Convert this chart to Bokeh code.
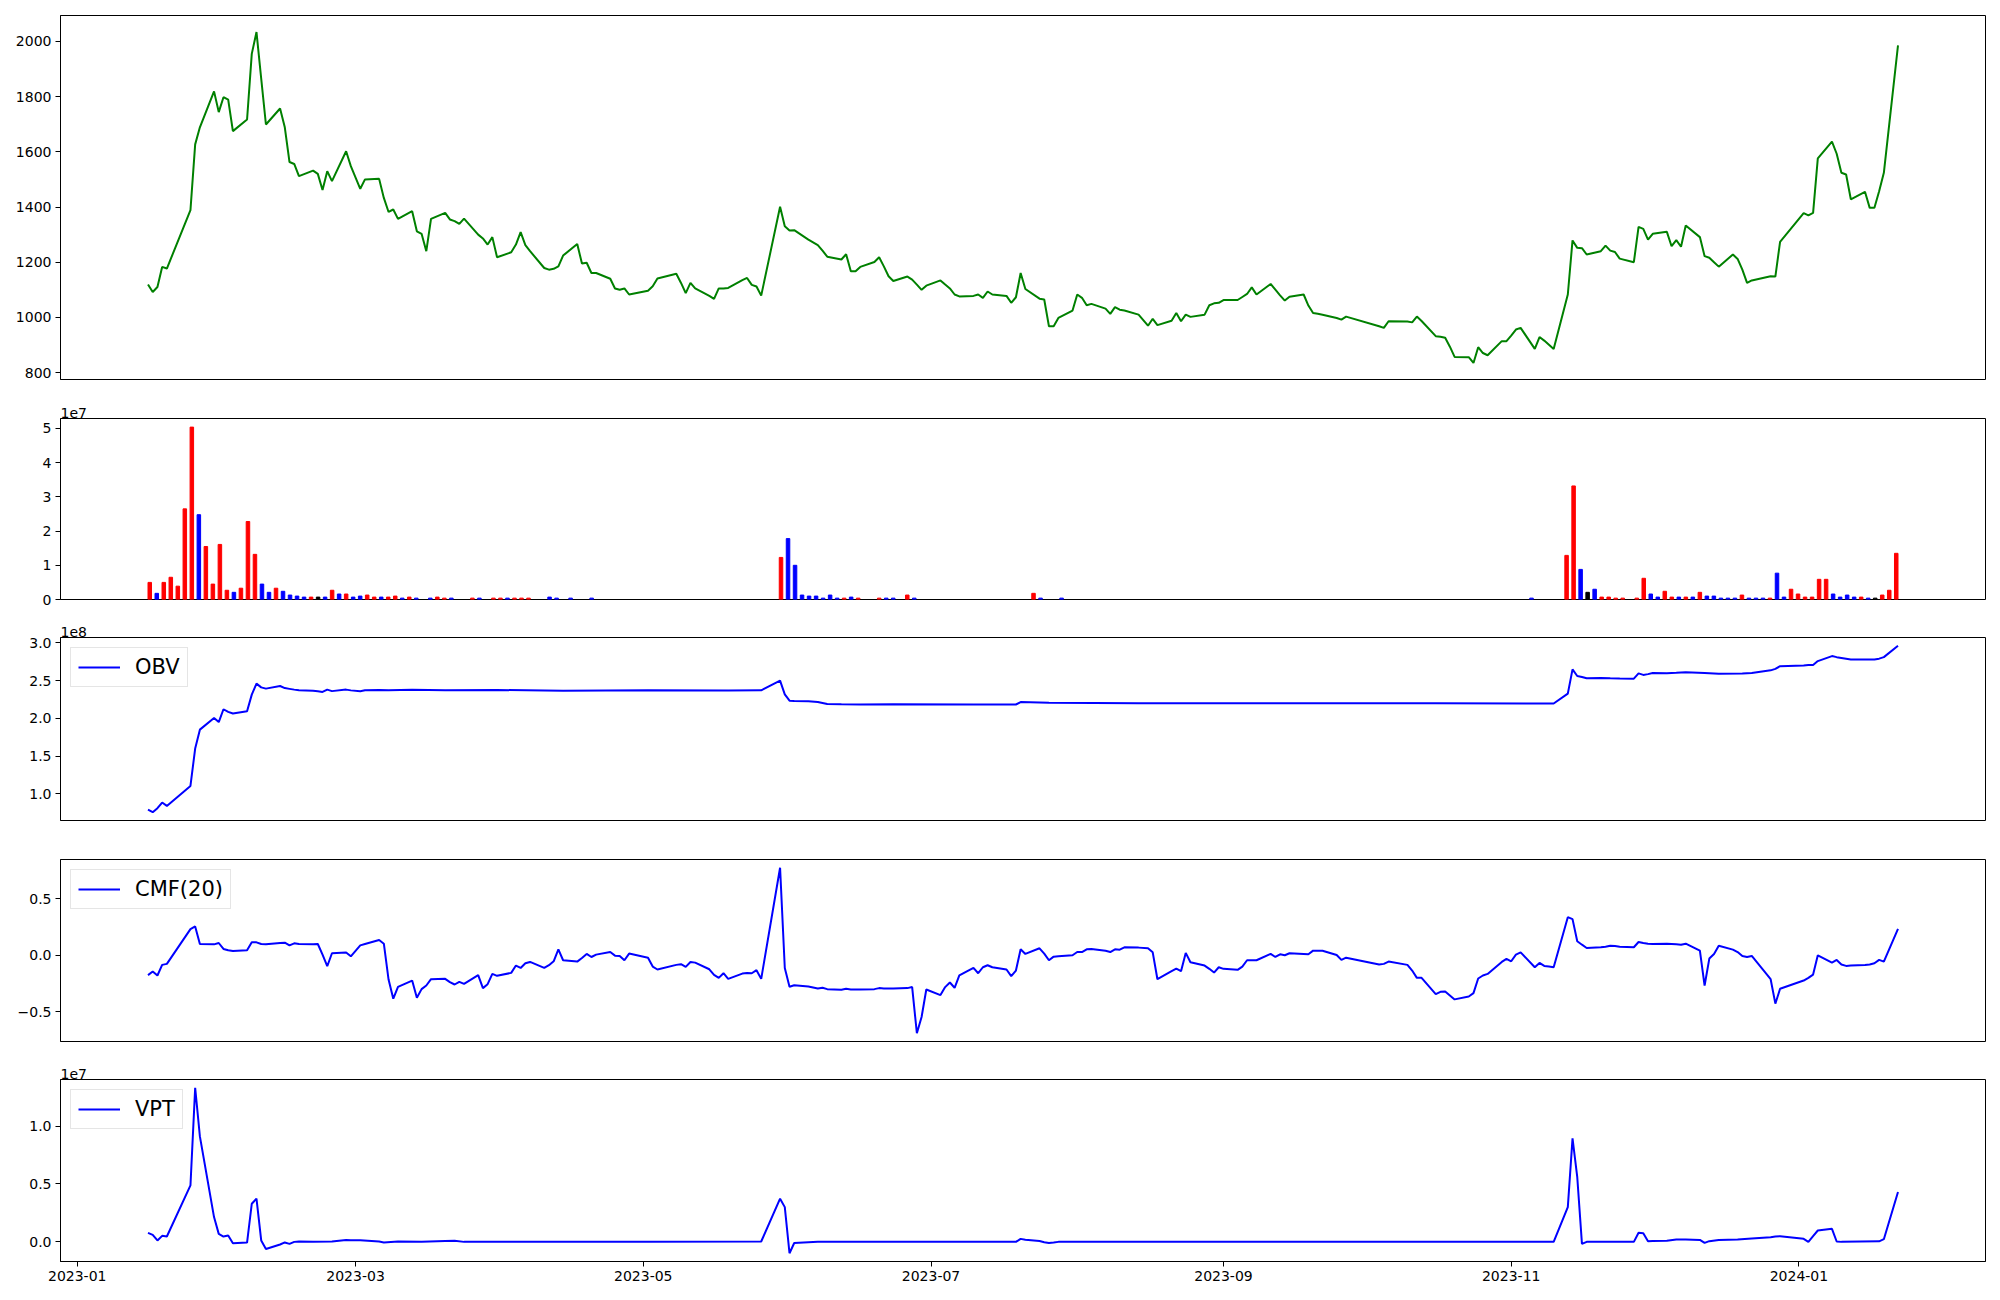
import pandas as pd
from bokeh.plotting import figure
from bokeh.layouts import column
from bokeh.models import (Range1d, FixedTicker, DatetimeTickFormatter, CustomJSTickFormatter,
                          Legend, LegendItem, ColumnDataSource)
from bokeh.embed import file_html
from bokeh.resources import INLINE

# ---------------- data ----------------
DATES = [
"2023-01-16","2023-01-17","2023-01-18","2023-01-19","2023-01-20","2023-01-25","2023-01-26","2023-01-27","2023-01-30","2023-01-31",
"2023-02-01","2023-02-02","2023-02-03","2023-02-06","2023-02-07","2023-02-08","2023-02-09","2023-02-10","2023-02-13","2023-02-14",
"2023-02-15","2023-02-16","2023-02-17","2023-02-20","2023-02-21","2023-02-22","2023-02-23","2023-02-24","2023-02-27","2023-02-28",
"2023-03-02","2023-03-03","2023-03-06","2023-03-07","2023-03-08","2023-03-09","2023-03-10","2023-03-13","2023-03-14","2023-03-15",
"2023-03-16","2023-03-17","2023-03-20","2023-03-21","2023-03-22","2023-03-23","2023-03-24","2023-03-27","2023-03-28","2023-03-29",
"2023-03-30","2023-03-31",
"2023-04-03","2023-04-04","2023-04-05","2023-04-06","2023-04-07","2023-04-10","2023-04-11","2023-04-12","2023-04-13","2023-04-14",
"2023-04-17","2023-04-18","2023-04-19","2023-04-20","2023-04-21","2023-04-24","2023-04-25","2023-04-26","2023-04-27","2023-04-28",
"2023-05-02","2023-05-03","2023-05-04","2023-05-08","2023-05-09","2023-05-10","2023-05-11","2023-05-12","2023-05-15","2023-05-16",
"2023-05-17","2023-05-18","2023-05-19","2023-05-22","2023-05-23","2023-05-24","2023-05-25","2023-05-26","2023-05-30","2023-05-31",
"2023-06-01","2023-06-02","2023-06-05","2023-06-07","2023-06-08","2023-06-09","2023-06-12","2023-06-13","2023-06-14","2023-06-15",
"2023-06-16","2023-06-19","2023-06-20","2023-06-21","2023-06-22","2023-06-23","2023-06-26","2023-06-27","2023-06-28","2023-06-29",
"2023-06-30",
"2023-07-03","2023-07-04","2023-07-05","2023-07-06","2023-07-07","2023-07-10","2023-07-11","2023-07-12","2023-07-13","2023-07-14",
"2023-07-17","2023-07-18","2023-07-19","2023-07-20","2023-07-21","2023-07-24","2023-07-25","2023-07-26","2023-07-27","2023-07-28",
"2023-07-31",
"2023-08-01","2023-08-02","2023-08-03","2023-08-04","2023-08-07","2023-08-08","2023-08-09","2023-08-10","2023-08-11","2023-08-14",
"2023-08-16","2023-08-17","2023-08-18","2023-08-21","2023-08-22","2023-08-23","2023-08-24","2023-08-25","2023-08-28","2023-08-29",
"2023-08-30","2023-08-31",
"2023-09-01","2023-09-04","2023-09-05","2023-09-06","2023-09-07","2023-09-08","2023-09-11","2023-09-12","2023-09-13","2023-09-14",
"2023-09-15","2023-09-18","2023-09-19","2023-09-20","2023-09-21","2023-09-22","2023-09-25","2023-09-26","2023-09-27",
"2023-10-04","2023-10-05","2023-10-06","2023-10-10","2023-10-11","2023-10-12","2023-10-13","2023-10-16","2023-10-17","2023-10-18",
"2023-10-19","2023-10-20","2023-10-23","2023-10-24","2023-10-25","2023-10-26","2023-10-27","2023-10-30","2023-10-31",
"2023-11-01","2023-11-02","2023-11-03","2023-11-06","2023-11-07","2023-11-08","2023-11-09","2023-11-10","2023-11-13","2023-11-14",
"2023-11-15","2023-11-16","2023-11-17","2023-11-20","2023-11-21","2023-11-22","2023-11-23","2023-11-24","2023-11-27","2023-11-28",
"2023-11-29","2023-11-30",
"2023-12-01","2023-12-04","2023-12-05","2023-12-06","2023-12-07","2023-12-08","2023-12-11","2023-12-12","2023-12-13","2023-12-14",
"2023-12-15","2023-12-18","2023-12-19","2023-12-20","2023-12-21","2023-12-22","2023-12-26","2023-12-27","2023-12-28",
"2024-01-02","2024-01-03","2024-01-04","2024-01-05","2024-01-08","2024-01-09","2024-01-10","2024-01-11","2024-01-12","2024-01-15",
"2024-01-16","2024-01-17","2024-01-18","2024-01-19","2024-01-22",
]

CLOSE = [
1119,1092,1110,1183,1177,1389,1627,1689,1819,1744,
1798,1789,1675,1717,1955,2034,1865,1699,1757,1689,1563,1556,1512,1532,1520,1462,1530,1494,1602,1548,
1466,1500,1502,1433,1382,1391,1357,1385,1312,1303,1240,1357,1379,1355,1349,1339,1358,1300,1286,1264,1291,1218,
1236,1264,1309,1262,1240,1179,1173,1176,1185,1224,1266,1195,1198,1161,1161,1140,1105,1100,1105,1083,
1097,1113,1141,1158,1125,1088,1125,1105,1078,1067,1105,1105,1107,1135,1143,1118,1112,1079,1401,1330,
1315,1316,1282,1262,1242,1220,1210,1229,1167,1167,1183,1201,1218,1185,1149,1132,1148,1137,1119,1100,1115,
1134,1119,1105,1083,1076,1078,1083,1071,1094,1083,1078,1053,1073,1161,1103,1068,1065,968,968,998,1025,
1083,1071,1044,1049,1032,1013,1037,1028,1025,1010,970,995,972,988,1016,986,1010,1002,1010,1044,1051,1053,
1063,1063,1074,1085,1109,1083,1121,1101,1080,1061,1075,1083,1043,1016,1013,1010,998,992,1003,
968,962,986,985,982,1003,987,932,930,926,894,857,856,835,892,871,863,914,914,
934,956,962,886,929,916,901,886,1083,1279,1252,1251,1228,1240,1260,1242,1237,1213,1200,1328,1321,1282,
1303,1310,1258,1280,1256,1333,1291,1222,1216,1200,1184,1228,1212,1173,1125,1134,1149,1148,1274,
1378,1370,1379,1576,1637,1593,1524,1518,1428,1455,1397,1397,1457,1524,1986,
]

CMF20 = [
-0.176,-0.144,-0.179,-0.085,-0.076,0.232,0.256,0.100,0.097,0.109,
0.056,0.044,0.038,0.044,0.115,0.115,0.100,0.097,0.109,0.112,0.088,0.106,0.100,0.097,0.100,0.006,-0.097,0.018,0.024,-0.009,
0.088,0.100,0.135,0.103,-0.215,-0.385,-0.280,-0.224,-0.376,-0.300,-0.268,-0.212,-0.209,-0.238,-0.259,-0.235,-0.253,-0.176,-0.291,-0.256,-0.165,-0.182,
-0.156,-0.091,-0.112,-0.071,-0.059,-0.112,-0.088,-0.053,0.053,-0.044,-0.056,-0.024,0.012,-0.015,0.006,0.029,-0.003,-0.006,-0.044,0.015,
-0.021,-0.100,-0.126,-0.085,-0.079,-0.103,-0.059,-0.065,-0.124,-0.174,-0.200,-0.159,-0.209,-0.162,-0.156,-0.159,-0.132,-0.209,0.776,-0.112,
-0.279,-0.265,-0.276,-0.294,-0.288,-0.300,-0.306,-0.297,-0.303,-0.303,-0.303,-0.300,-0.291,-0.294,-0.294,-0.294,-0.291,-0.282,-0.691,-0.547,-0.303,
-0.353,-0.282,-0.241,-0.288,-0.179,-0.112,-0.159,-0.106,-0.088,-0.106,-0.126,-0.185,-0.135,0.053,0.012,0.062,0.015,-0.044,-0.012,-0.009,0.000,
0.029,0.029,0.053,0.056,0.041,0.029,0.053,0.050,0.071,0.068,0.062,0.026,-0.212,-0.141,-0.118,-0.141,0.021,-0.062,-0.091,-0.120,-0.153,-0.106,
-0.120,-0.129,-0.100,-0.044,-0.044,-0.044,0.012,-0.015,0.009,0.000,0.018,0.012,0.009,0.041,0.041,0.041,0.003,-0.041,-0.021,
-0.082,-0.076,-0.056,-0.085,-0.135,-0.200,-0.200,-0.344,-0.324,-0.321,-0.356,-0.391,-0.365,-0.335,-0.206,-0.179,-0.165,-0.059,-0.032,
-0.053,0.006,0.026,-0.106,-0.068,-0.094,-0.100,-0.106,0.338,0.321,0.124,0.094,0.065,0.071,0.076,0.085,0.082,0.076,0.071,0.118,0.109,0.103,
0.100,0.103,0.100,0.097,0.094,0.103,0.041,-0.268,-0.029,0.012,0.085,0.050,0.029,-0.006,-0.015,-0.006,-0.212,-0.429,-0.297,
-0.224,-0.200,-0.171,0.000,-0.065,-0.041,-0.082,-0.094,-0.091,-0.085,-0.082,-0.071,-0.041,-0.056,0.235,
]

# volume panel is drawn against the trading-day number (0 = first date)
VOL_DAY = [0,1,2,3,4,5,6,7,8,9,10,11,12,13,14,15,16,17,18,19,20,21,22,23,24,25,26,27,28,29,
           30,31,32,33,34,35,36,37,38,40,41,42,43,46,47,49,50,51,52,53,54,57,58,60,63,
           90,91,92,93,94,95,96,97,98,99,100,101,104,105,106,108,109,126,127,130,197,
           202,203,204,205,206,207,208,209,210,212,213,214,215,216,217,218,219,220,221,222,223,224,225,
           226,227,228,229,230,231,232,233,234,235,236,237,238,239,240,241,242,243,244,245,246,247,248,249]
VOL_MILLIONS = [5.0,1.8,5.0,6.5,3.9,26.5,50.4,24.8,15.5,4.5,16.1,2.7,2.1,3.3,22.8,13.2,4.5,2.1,3.3,2.4,
                1.3,1.0,0.7,0.7,0.7,0.7,2.7,1.6,1.6,0.7,1.0,1.3,0.7,0.7,0.7,1.0,0.4,0.7,0.4,0.4,0.7,0.4,0.4,
                0.4,0.4,0.4,0.4,0.4,0.4,0.4,0.4,0.7,0.4,0.4,0.4,
                12.3,17.8,10.0,1.3,1.0,1.0,0.4,1.3,0.4,0.4,0.7,0.4,0.4,0.4,0.4,1.3,0.4,1.8,0.4,0.4,0.4,
                12.9,33.2,8.8,2.1,3.0,0.7,0.7,0.4,0.4,0.4,6.2,1.6,0.7,2.4,0.7,0.7,0.7,0.7,2.1,1.0,1.0,0.4,0.4,
                0.4,1.3,0.4,0.4,0.4,0.4,7.7,0.7,3.0,1.6,0.7,0.7,5.9,5.9,1.6,0.7,1.3,0.7,0.7,0.4,0.4,1.3,2.7,13.5]
VOL_SIDE = ["up","down","up","up","up","up","up","down","up","up","up","up","down","up","up","up","down","down","up","down",
            "down","down","down","up","flat","down","up","down","up","down","down","up","up","down","up","up","down","up","down","down","up","up","down",
            "up","down","up","up","down","up","up","up","down","down","down","down",
            "up","down","down","down","down","down","down","down","down","up","down","up","up","down","down","up","down","up","down","down","down",
            "up","up","down","flat","down","up","up","up","up","up","up","down","down","up","up","down","up","down","up","down","down","down","down",
            "down","up","down","down","down","up","down","down","up","up","up","up","up","up","down","down","down","down","up","down","flat","up","up","up"]

OBV_DATES = ["2023-01-16","2023-01-17","2023-01-18","2023-01-19","2023-01-20","2023-01-25","2023-01-26","2023-01-27","2023-01-30","2023-01-31",
             "2023-02-01","2023-02-02","2023-02-03","2023-02-06","2023-02-07","2023-02-08","2023-02-09","2023-02-10","2023-02-13","2023-02-14",
             "2023-02-15","2023-02-16","2023-02-17","2023-02-20","2023-02-21","2023-02-22","2023-02-23","2023-02-24","2023-02-27","2023-02-28",
             "2023-03-02","2023-03-03","2023-03-06","2023-03-08","2023-03-13","2023-03-20","2023-03-31","2023-04-14","2023-05-02","2023-05-19",
             "2023-05-26","2023-05-30","2023-05-31","2023-06-01","2023-06-02","2023-06-05","2023-06-07","2023-06-09","2023-06-12","2023-06-16",
             "2023-06-23","2023-07-10","2023-07-19","2023-07-20","2023-07-26","2023-08-14","2023-09-15","2023-10-16","2023-11-10","2023-11-13",
             "2023-11-14","2023-11-15","2023-11-16","2023-11-17","2023-11-20","2023-11-22","2023-11-24","2023-11-27","2023-11-28","2023-11-29",
             "2023-11-30","2023-12-01","2023-12-04","2023-12-06","2023-12-08","2023-12-12","2023-12-15","2023-12-20","2023-12-22","2023-12-26",
             "2023-12-27","2023-12-28","2024-01-02","2024-01-03","2024-01-04","2024-01-05","2024-01-08","2024-01-09","2024-01-10","2024-01-11",
             "2024-01-12","2024-01-15","2024-01-17","2024-01-18","2024-01-19","2024-01-22"]
OBV_E8 = [0.79,0.757,0.81,0.885,0.84,1.105,1.60,1.85,2.005,1.95,
          2.12,2.085,2.063,2.094,2.314,2.459,2.41,2.393,2.428,2.40,
          2.39,2.38,2.371,2.365,2.358,2.349,2.38,2.36,2.38,2.37,
          2.358,2.372,2.375,2.37,2.378,2.372,2.375,2.365,2.37,2.368,
          2.371,2.499,2.318,2.234,2.23,2.227,2.217,2.19,2.186,2.182,
          2.186,2.184,2.183,2.215,2.205,2.198,2.20,2.199,2.196,2.327,
          2.648,2.56,2.547,2.53,2.535,2.53,2.526,2.525,2.595,2.575,
          2.585,2.60,2.596,2.602,2.609,2.60,2.59,2.592,2.60,2.635,
          2.655,2.69,2.70,2.705,2.706,2.758,2.824,2.81,2.80,2.79,
          2.78,2.78,2.78,2.79,2.81,2.96]

VPT_DATES = ["2023-01-16","2023-01-17","2023-01-18","2023-01-19","2023-01-20","2023-01-25","2023-01-26","2023-01-27","2023-01-30","2023-01-31",
             "2023-02-01","2023-02-02","2023-02-03","2023-02-06","2023-02-07","2023-02-08","2023-02-09","2023-02-10","2023-02-13","2023-02-14",
             "2023-02-15","2023-02-16","2023-02-17","2023-02-20","2023-02-24","2023-02-27","2023-02-28","2023-03-02","2023-03-06","2023-03-07",
             "2023-03-10","2023-03-15","2023-03-20","2023-03-22","2023-03-24","2023-04-03","2023-04-14","2023-05-02","2023-05-26","2023-05-30",
             "2023-05-31","2023-06-01","2023-06-02","2023-06-05","2023-06-07","2023-06-16","2023-07-19","2023-07-20","2023-07-21","2023-07-24",
             "2023-07-25","2023-07-26","2023-07-27","2023-07-28","2023-11-10","2023-11-13","2023-11-14","2023-11-15","2023-11-16","2023-11-17",
             "2023-11-27","2023-11-28","2023-11-29","2023-11-30","2023-12-01","2023-12-04","2023-12-06","2023-12-08","2023-12-11","2023-12-12",
             "2023-12-13","2023-12-15","2023-12-19","2023-12-22","2023-12-26","2023-12-27","2023-12-28","2024-01-02","2024-01-03","2024-01-04",
             "2024-01-05","2024-01-08","2024-01-09","2024-01-10","2024-01-18","2024-01-19","2024-01-22"]
VPT_E7 = [0.078,0.061,0.012,0.052,0.046,0.487,1.33,0.91,0.214,0.069,
          0.046,0.055,-0.012,-0.006,0.329,0.373,0.012,-0.061,-0.023,-0.005,
          -0.017,0.0,0.003,0.002,0.004,0.017,0.015,0.014,0.003,-0.005,
          0.003,0.002,0.008,0.010,0.0,0.001,0.0,0.001,0.003,0.373,
          0.30,-0.098,-0.010,-0.003,0.0,0.002,0.0,0.026,0.018,0.008,
          -0.003,-0.009,-0.006,0.0,0.0,0.30,0.893,0.56,-0.017,0.0,
          0.0,0.078,0.075,0.006,0.008,0.009,0.020,0.020,0.017,-0.009,
          0.006,0.017,0.020,0.030,0.040,0.046,0.049,0.026,0.0,0.05,
          0.098,0.113,0.003,0.0,0.005,0.023,0.43]

X_TICK_LABELS = ["2023-01", "2023-03", "2023-05", "2023-07", "2023-09", "2023-11", "2024-01"]
PRICE_TICKS = [800, 1000, 1200, 1400, 1600, 1800, 2000]
VOL_TICKS = [0, 1, 2, 3, 4, 5]
OBV_TICKS = [1.0, 1.5, 2.0, 2.5, 3.0]
CMF_TICKS = [-0.5, 0.0, 0.5]
VPT_TICKS = [0.0, 0.5, 1.0]

assert len(DATES) == len(CLOSE) == len(CMF20) == 250
assert len(VOL_DAY) == len(VOL_MILLIONS) == len(VOL_SIDE)
assert len(OBV_DATES) == len(OBV_E8) and len(VPT_DATES) == len(VPT_E7)

# ---------------- styling ----------------
FONT = "DejaVu Sans"
TICK_SIZE = "14px"
FRAME_W = 1925
LEFT = 60
RIGHT = 15
BAR_W = 0.5
SIDE_COLOR = {"up": "red", "down": "blue", "flat": "black"}

dates = pd.to_datetime(pd.Series(DATES))
span = dates.iloc[-1] - dates.iloc[0]
x_date = Range1d(start=dates.iloc[0] - 0.05 * span, end=dates.iloc[-1] + 0.05 * span)

def padded(vals):
    lo, hi = min(vals), max(vals)
    m = 0.05 * (hi - lo)
    return Range1d(lo - m, hi + m)

one_dec = CustomJSTickFormatter(code="return tick.toFixed(1).replace('-', '\u2212');")

def make(frame_h, top, bottom, y_range, x_range, yticks, title=None, x_type="datetime", fmt=None):
    p = figure(frame_width=FRAME_W, frame_height=frame_h, x_range=x_range, y_range=y_range,
               x_axis_type=x_type, output_backend="svg", toolbar_location=None, tools="",
               min_border_left=LEFT, min_border_right=RIGHT, min_border_top=top,
               min_border_bottom=bottom, title=title)
    p.background_fill_color = "white"
    p.border_fill_color = "white"
    p.outline_line_color = "black"
    p.outline_line_width = 1
    p.outline_line_alpha = 1
    p.xgrid.visible = False
    p.ygrid.visible = False
    for ax in list(p.xaxis) + list(p.yaxis):
        ax.major_label_text_font = FONT
        ax.major_label_text_font_size = TICK_SIZE
        ax.major_label_text_color = "black"
        ax.axis_line_color = "black"
        ax.major_tick_line_color = "black"
        ax.major_tick_out = 5
        ax.major_tick_in = 0
        ax.minor_tick_out = 0
        ax.minor_tick_in = 0
        ax.major_label_standoff = 4
    p.yaxis.ticker = FixedTicker(ticks=yticks)
    if fmt is not None:
        p.yaxis.formatter = fmt
    if title is not None:
        p.title.align = "left"
        p.title.offset = 0
        p.title.standoff = 2
        p.title.text_font = FONT
        p.title.text_font_size = TICK_SIZE
        p.title.text_font_style = "normal"
        p.title.text_color = "black"
    return p

def add_legend(p, renderer, label):
    lg = Legend(items=[LegendItem(label=label, renderers=[renderer])], location="top_left")
    lg.margin = 10
    lg.padding = 7
    lg.spacing = 0
    lg.glyph_width = 42
    lg.glyph_height = 20
    lg.label_standoff = 15
    lg.label_text_font = FONT
    lg.label_text_font_size = "21px"
    lg.label_text_color = "black"
    lg.border_line_color = "#cccccc"
    lg.border_line_width = 1
    lg.background_fill_color = "white"
    lg.background_fill_alpha = 0.8
    p.add_layout(lg)

# 1) price
p1 = make(364, 15, 9, padded(CLOSE), x_date, PRICE_TICKS)
p1.line(dates, CLOSE, color="green", line_width=2)
p1.xaxis.visible = False

# 2) volume (by trading-day number)
n = len(DATES)
w = (n - 1) + BAR_W
x_idx = Range1d(-BAR_W / 2 - 0.05 * w, (n - 1) + BAR_W / 2 + 0.05 * w)
vol_e7 = [v * 1e6 / 1e7 for v in VOL_MILLIONS]
p2 = make(181, 30, 9, Range1d(0, max(vol_e7) * 1.05), x_idx, VOL_TICKS, title="1e7", x_type="linear")
src = ColumnDataSource(dict(x=VOL_DAY, top=vol_e7, color=[SIDE_COLOR[s] for s in VOL_SIDE]))
p2.vbar(x="x", top="top", width=BAR_W, bottom=0, color="color", source=src)
p2.xaxis.visible = False

# 3) OBV
obv_dates = pd.to_datetime(pd.Series(OBV_DATES))
p3 = make(183, 29, 9, padded(OBV_E8), x_date, OBV_TICKS, title="1e8", fmt=one_dec)
r3 = p3.line(obv_dates, OBV_E8, color="blue", line_width=2)
add_legend(p3, r3, "OBV")
p3.xaxis.visible = False

# 4) CMF(20)
p4 = make(182, 30, 9, padded(CMF20), x_date, CMF_TICKS, fmt=one_dec)
r4 = p4.line(dates, CMF20, color="blue", line_width=2)
add_legend(p4, r4, "CMF(20)")
p4.xaxis.visible = False

# 5) VPT
vpt_dates = pd.to_datetime(pd.Series(VPT_DATES))
p5 = make(182, 29, 30, padded(VPT_E7), x_date, VPT_TICKS, title="1e7", fmt=one_dec)
r5 = p5.line(vpt_dates, VPT_E7, color="blue", line_width=2)
add_legend(p5, r5, "VPT")
xt = [pd.Timestamp(s + "-01").value / 1e6 for s in X_TICK_LABELS]
p5.xaxis.ticker = FixedTicker(ticks=xt)
p5.xaxis.formatter = DatetimeTickFormatter(years="%Y-%m", months="%Y-%m", days="%Y-%m",
                                           hours="%Y-%m", hourmin="%Y-%m", minutes="%Y-%m",
                                           minsec="%Y-%m", seconds="%Y-%m", milliseconds="%Y-%m",
                                           microseconds="%Y-%m")

layout = column(p1, p2, p3, p4, p5, spacing=0)
open("out.html", "w").write(file_html(layout, INLINE))
